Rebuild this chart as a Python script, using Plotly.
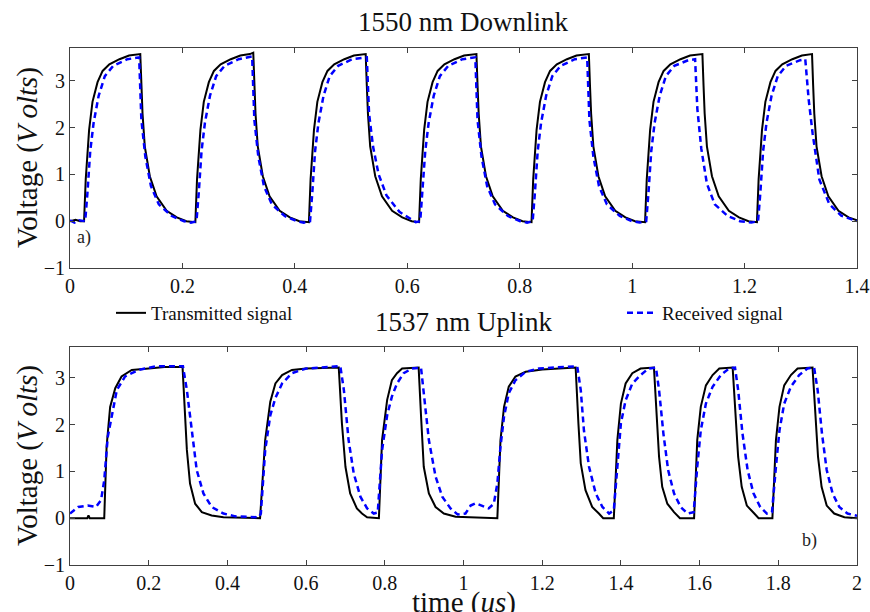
import plotly.graph_objects as go

# ---------------- data (time in us, voltage in V) ----------------
# 1550 nm Downlink - transmitted signal
down_tx = [
    (0.000, 0.00), (0.010, 0.03), (0.018, 0.00), (0.025, 0.00),
    (0.028, 0.90), (0.034, 1.95), (0.040, 2.55), (0.049, 2.97), (0.058, 3.21), (0.070, 3.35), (0.088, 3.46), (0.105, 3.54), (0.125, 3.57),
    (0.127, 2.90), (0.129, 2.30), (0.133, 1.60), (0.142, 0.96), (0.154, 0.53), (0.172, 0.22), (0.190, 0.08), (0.207, 0.00), (0.223, -0.02),
    (0.226, 0.90), (0.232, 1.95), (0.238, 2.55), (0.247, 2.97), (0.256, 3.21), (0.268, 3.35), (0.286, 3.46), (0.303, 3.54), (0.320, 3.57), (0.326, 3.60),
    (0.328, 2.90), (0.330, 2.30), (0.334, 1.60), (0.343, 0.96), (0.355, 0.53), (0.373, 0.22), (0.391, 0.08), (0.408, 0.00), (0.425, -0.02),
    (0.428, 0.90), (0.434, 1.95), (0.440, 2.55), (0.449, 2.97), (0.458, 3.21), (0.470, 3.35), (0.488, 3.46), (0.505, 3.54), (0.526, 3.57),
    (0.528, 2.90), (0.530, 2.30), (0.534, 1.60), (0.543, 0.96), (0.555, 0.53), (0.573, 0.22), (0.591, 0.08), (0.608, 0.00), (0.621, -0.02),
    (0.624, 0.90), (0.630, 1.95), (0.636, 2.55), (0.645, 2.97), (0.654, 3.21), (0.666, 3.35), (0.684, 3.46), (0.701, 3.54), (0.723, 3.57),
    (0.725, 2.90), (0.727, 2.30), (0.731, 1.60), (0.740, 0.96), (0.752, 0.53), (0.770, 0.22), (0.788, 0.08), (0.805, 0.00), (0.821, -0.02),
    (0.824, 0.90), (0.830, 1.95), (0.836, 2.55), (0.845, 2.97), (0.854, 3.21), (0.866, 3.35), (0.884, 3.46), (0.901, 3.54), (0.923, 3.57),
    (0.925, 2.90), (0.927, 2.30), (0.931, 1.60), (0.940, 0.96), (0.952, 0.53), (0.970, 0.22), (0.988, 0.08), (1.005, 0.00), (1.023, -0.02),
    (1.026, 0.90), (1.032, 1.95), (1.038, 2.55), (1.047, 2.97), (1.056, 3.21), (1.068, 3.35), (1.086, 3.46), (1.103, 3.54), (1.125, 3.57),
    (1.127, 2.90), (1.129, 2.30), (1.133, 1.60), (1.142, 0.96), (1.154, 0.53), (1.172, 0.22), (1.190, 0.08), (1.207, 0.00), (1.222, -0.02),
    (1.225, 0.90), (1.231, 1.95), (1.237, 2.55), (1.246, 2.97), (1.255, 3.21), (1.267, 3.35), (1.285, 3.46), (1.302, 3.54), (1.320, 3.57),
    (1.322, 2.90), (1.324, 2.30), (1.328, 1.60), (1.337, 0.96), (1.349, 0.53), (1.367, 0.22), (1.385, 0.08), (1.400, 0.02),
]

# 1550 nm Downlink - received signal
down_rx = [
    (0.000, 0.02), (0.008, -0.03), (0.016, 0.02), (0.027, 0.00),
    (0.031, 0.60), (0.036, 1.50), (0.042, 2.10), (0.051, 2.68), (0.062, 3.10), (0.077, 3.32), (0.102, 3.46), (0.123, 3.50),
    (0.127, 2.16), (0.134, 1.38), (0.144, 0.75), (0.158, 0.36), (0.181, 0.11), (0.203, 0.00), (0.215, -0.03), (0.225, 0.00),
    (0.229, 0.60), (0.234, 1.50), (0.240, 2.10), (0.249, 2.68), (0.260, 3.10), (0.275, 3.32), (0.300, 3.46), (0.324, 3.52),
    (0.328, 2.16), (0.335, 1.38), (0.345, 0.75), (0.359, 0.36), (0.382, 0.11), (0.404, 0.00), (0.416, -0.03), (0.427, 0.00),
    (0.431, 0.60), (0.436, 1.50), (0.442, 2.10), (0.451, 2.68), (0.462, 3.10), (0.477, 3.32), (0.502, 3.46), (0.528, 3.50),
    (0.532, 2.30), (0.539, 1.60), (0.549, 1.00), (0.563, 0.55), (0.586, 0.20), (0.608, 0.03), (0.615, -0.02), (0.623, 0.00),
    (0.627, 0.60), (0.632, 1.50), (0.638, 2.10), (0.647, 2.68), (0.658, 3.10), (0.673, 3.32), (0.698, 3.46), (0.721, 3.50),
    (0.725, 2.16), (0.732, 1.38), (0.742, 0.75), (0.756, 0.36), (0.779, 0.11), (0.801, 0.00), (0.813, -0.03), (0.823, 0.00),
    (0.827, 0.60), (0.832, 1.50), (0.838, 2.10), (0.847, 2.68), (0.858, 3.10), (0.873, 3.32), (0.898, 3.46), (0.920, 3.50),
    (0.924, 2.16), (0.931, 1.38), (0.941, 0.75), (0.955, 0.36), (0.978, 0.11), (1.000, 0.00), (1.013, -0.03), (1.025, 0.00),
    (1.029, 0.60), (1.034, 1.50), (1.040, 2.10), (1.049, 2.68), (1.060, 3.10), (1.075, 3.32), (1.100, 3.44), (1.112, 3.46),
    (1.116, 2.40), (1.123, 1.55), (1.133, 0.80), (1.147, 0.36), (1.170, 0.11), (1.192, 0.00), (1.212, -0.03), (1.224, 0.00),
    (1.228, 0.60), (1.233, 1.50), (1.239, 2.10), (1.248, 2.68), (1.259, 3.10), (1.274, 3.32), (1.299, 3.44), (1.308, 3.46),
    (1.314, 2.60), (1.321, 1.88), (1.333, 0.89), (1.351, 0.36), (1.372, 0.12), (1.400, 0.00),
]

# 1537 nm Uplink - transmitted signal
up_tx = [
    (0.000, 0.00), (0.044, 0.00), (0.047, 0.06), (0.050, 0.00), (0.087, 0.00),
    (0.093, 1.53), (0.102, 2.38), (0.115, 2.78), (0.131, 3.03), (0.157, 3.17), (0.200, 3.20), (0.240, 3.23), (0.286, 3.23),
    (0.291, 2.38), (0.297, 1.46), (0.305, 0.74), (0.318, 0.31), (0.335, 0.13), (0.360, 0.06), (0.390, 0.02), (0.483, 0.00),
    (0.496, 1.67), (0.509, 2.49), (0.522, 2.88), (0.539, 3.06), (0.564, 3.17), (0.600, 3.20), (0.683, 3.22),
    (0.691, 2.03), (0.700, 1.10), (0.712, 0.53), (0.729, 0.21), (0.742, 0.10), (0.755, 0.02), (0.785, 0.00),
    (0.793, 1.67), (0.806, 2.53), (0.818, 2.95), (0.831, 3.10), (0.844, 3.20), (0.886, 3.22),
    (0.892, 2.20), (0.899, 1.10), (0.912, 0.53), (0.929, 0.24), (0.950, 0.10), (0.980, 0.03), (1.086, 0.00),
    (1.094, 1.67), (1.103, 2.38), (1.115, 2.81), (1.132, 3.03), (1.158, 3.13), (1.200, 3.18), (1.285, 3.22),
    (1.292, 2.03), (1.298, 1.17), (1.310, 0.60), (1.327, 0.24), (1.344, 0.10), (1.355, 0.00), (1.382, 0.00),
    (1.391, 1.67), (1.400, 2.45), (1.412, 2.88), (1.429, 3.10), (1.450, 3.20), (1.484, 3.22),
    (1.489, 2.38), (1.497, 1.31), (1.505, 0.67), (1.518, 0.31), (1.535, 0.13), (1.550, 0.00), (1.586, 0.00),
    (1.594, 1.67), (1.603, 2.38), (1.616, 2.84), (1.633, 3.06), (1.650, 3.20), (1.684, 3.22),
    (1.690, 2.38), (1.698, 1.31), (1.707, 0.67), (1.720, 0.27), (1.739, 0.10), (1.750, 0.00), (1.785, 0.00),
    (1.794, 1.67), (1.803, 2.38), (1.815, 2.84), (1.832, 3.06), (1.849, 3.20), (1.887, 3.22),
    (1.893, 2.38), (1.901, 1.31), (1.910, 0.67), (1.923, 0.27), (1.942, 0.10), (1.968, 0.02), (2.000, 0.00),
]

# 1537 nm Uplink - received signal
up_rx = [
    (0.000, 0.10), (0.021, 0.24), (0.045, 0.27), (0.066, 0.24), (0.079, 0.39), (0.087, 0.81),
    (0.096, 1.74), (0.106, 2.21), (0.119, 2.74), (0.140, 3.03), (0.174, 3.17), (0.220, 3.25), (0.287, 3.25),
    (0.297, 2.74), (0.310, 1.81), (0.322, 1.03), (0.339, 0.53), (0.360, 0.24), (0.390, 0.10), (0.420, 0.04), (0.480, 0.02),
    (0.485, 0.10), (0.496, 1.45), (0.509, 2.20), (0.522, 2.57), (0.539, 2.88), (0.564, 3.10), (0.600, 3.20), (0.687, 3.25),
    (0.696, 2.74), (0.708, 1.67), (0.721, 0.96), (0.738, 0.46), (0.755, 0.21), (0.772, 0.10), (0.782, 0.12),
    (0.793, 1.45), (0.806, 2.20), (0.818, 2.60), (0.831, 2.88), (0.848, 3.10), (0.869, 3.20), (0.892, 3.22),
    (0.899, 2.67), (0.912, 1.67), (0.929, 0.89), (0.946, 0.46), (0.967, 0.21), (0.985, 0.08), (1.005, 0.10),
    (1.018, 0.27), (1.031, 0.32), (1.047, 0.27), (1.064, 0.21), (1.077, 0.31), (1.086, 0.74),
    (1.094, 1.53), (1.103, 2.17), (1.115, 2.67), (1.132, 2.95), (1.158, 3.13), (1.192, 3.20), (1.289, 3.25),
    (1.298, 2.74), (1.306, 1.88), (1.319, 1.10), (1.336, 0.53), (1.353, 0.24), (1.370, 0.10), (1.382, 0.17),
    (1.391, 1.10), (1.400, 2.03), (1.412, 2.52), (1.429, 2.88), (1.450, 3.06), (1.470, 3.20), (1.489, 3.22),
    (1.497, 2.74), (1.508, 1.81), (1.520, 1.03), (1.535, 0.53), (1.552, 0.24), (1.569, 0.10), (1.585, 0.13),
    (1.594, 1.10), (1.603, 1.88), (1.616, 2.45), (1.633, 2.81), (1.654, 3.06), (1.675, 3.20), (1.690, 3.22),
    (1.698, 2.74), (1.709, 1.81), (1.722, 1.03), (1.737, 0.53), (1.754, 0.24), (1.771, 0.10), (1.784, 0.13),
    (1.794, 1.10), (1.803, 1.88), (1.815, 2.45), (1.832, 2.81), (1.853, 3.06), (1.874, 3.20), (1.891, 3.22),
    (1.900, 2.74), (1.911, 1.81), (1.923, 1.03), (1.938, 0.53), (1.955, 0.24), (1.976, 0.10), (2.000, 0.05),
]

panel_titles = ["1550 nm Downlink", "1537 nm Uplink"]
series_names = ["Transmitted signal", "Received signal"]
panel_labels = ["a)", "b)"]

# ---------------- figure ----------------
FONT = "Liberation Serif"
TX_STYLE = dict(color="#000000", width=2)
RX_STYLE = dict(color="#0000ff", width=2.5, dash="6px,4px")

W, H = 870, 612
PL, PR, PT, PB = 70, 857, 48, 565  # plot-area edges in page pixels
L, R, T, B = PL, W - PR, PT, H - PB
ph = H - T - B
pw = W - L - R


def py(pix):
    """page y pixel -> paper fraction"""
    return (H - B - pix) / ph


def px(pix):
    """page x pixel -> paper fraction"""
    return (pix - L) / pw


def xy(points):
    return [p[0] for p in points], [p[1] for p in points]


fig = go.Figure()
for pts, ax, name, style, lg in [
    (down_tx, ("x", "y"), series_names[0], TX_STYLE, "legend"),
    (down_rx, ("x", "y"), series_names[1], RX_STYLE, "legend2"),
    (up_tx, ("x2", "y2"), series_names[0], TX_STYLE, None),
    (up_rx, ("x2", "y2"), series_names[1], RX_STYLE, None),
]:
    tx, vy = xy(pts)
    fig.add_trace(go.Scatter(x=tx, y=vy, mode="lines", name=name, line=style,
                             xaxis=ax[0], yaxis=ax[1], showlegend=lg is not None,
                             legend=lg or "legend"))

axis_common = dict(showline=True, linecolor="#404040", linewidth=1, mirror="ticks",
                   ticks="inside", ticklen=5, tickcolor="#404040", showgrid=False,
                   zeroline=False, automargin=False,
                   tickfont=dict(family=FONT, size=20, color="#111"))

legend_common = dict(orientation="h", xanchor="left", yanchor="middle", y=py(313),
                     font=dict(family=FONT, size=19, color="#111"),
                     bgcolor="rgba(0,0,0,0)")

fig.update_layout(
    width=W, height=H,
    margin=dict(l=L, r=R, t=T, b=B, autoexpand=False),
    paper_bgcolor="white", plot_bgcolor="white",
    font=dict(family=FONT, color="#111"),
    xaxis=dict(domain=[0, 1], anchor="y", range=[0, 1.4], tick0=0, dtick=0.2, **axis_common),
    yaxis=dict(domain=[py(268), 1], anchor="x", range=[-1, 3.7], tick0=0, dtick=1, **axis_common),
    xaxis2=dict(domain=[0, 1], anchor="y2", range=[0, 2], tick0=0, dtick=0.2, **axis_common),
    yaxis2=dict(domain=[0, py(347)], anchor="x2", range=[-1, 3.66], tick0=0, dtick=1, **axis_common),
    legend=dict(x=px(111), **legend_common),
    legend2=dict(x=px(622), **legend_common),
    showlegend=True,
)

ann = []
ann.append(dict(text=panel_titles[0], xref="paper", yref="paper", x=0.5, y=py(22),
                xanchor="center", yanchor="middle", showarrow=False,
                font=dict(family=FONT, size=27, color="#111")))
ann.append(dict(text=panel_titles[1], xref="paper", yref="paper", x=0.5, y=py(322),
                xanchor="center", yanchor="middle", showarrow=False,
                font=dict(family=FONT, size=27, color="#111")))
for yc in (158, 456):
    ann.append(dict(text="Voltage (<i>V olts</i>)", xref="paper", yref="paper",
                    x=px(27), y=py(yc), xanchor="center", yanchor="middle",
                    textangle=-90, showarrow=False,
                    font=dict(family=FONT, size=29, color="#111")))
ann.append(dict(text="time (<i>us</i>)", xref="paper", yref="paper", x=0.5, y=py(602),
                xanchor="center", yanchor="middle", showarrow=False,
                font=dict(family=FONT, size=29, color="#111")))
ann.append(dict(text=panel_labels[0], xref="x", yref="y", x=0.009, y=-0.34,
                xanchor="left", yanchor="middle", showarrow=False,
                font=dict(family=FONT, size=18, color="#222")))
ann.append(dict(text=panel_labels[1], xref="x2", yref="y2", x=1.855, y=-0.47,
                xanchor="left", yanchor="middle", showarrow=False,
                font=dict(family=FONT, size=18, color="#222")))
fig.update_layout(annotations=ann)

# remove the default 8px page margin so the 870x612 figure fills the window exactly
fig.write_html("out.html", config={"displayModeBar": False},
               post_script="document.body.style.margin='0';document.body.style.overflow='hidden';")
